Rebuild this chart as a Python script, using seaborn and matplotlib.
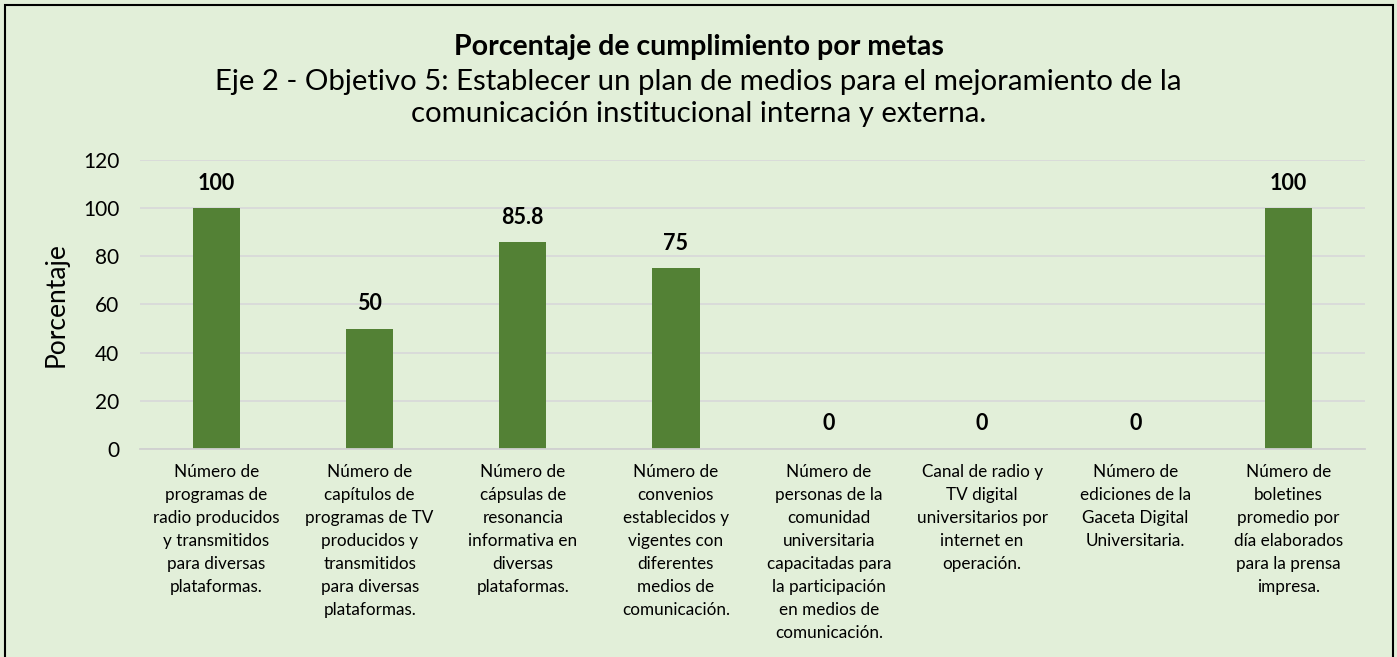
import matplotlib
matplotlib.use("Agg")
import matplotlib.pyplot as plt
import seaborn as sns
import pandas as pd
from matplotlib.patches import Rectangle

categorias = [
    "Número de\nprogramas de\nradio producidos\ny transmitidos\npara diversas\nplataformas.",
    "Número de\ncapítulos de\nprogramas de TV\nproducidos y\ntransmitidos\npara diversas\nplataformas.",
    "Número de\ncápsulas de\nresonancia\ninformativa en\ndiversas\nplataformas.",
    "Número de\nconvenios\nestablecidos y\nvigentes con\ndiferentes\nmedios de\ncomunicación.",
    "Número de\npersonas de la\ncomunidad\nuniversitaria\ncapacitadas para\nla participación\nen medios de\ncomunicación.",
    "Canal de radio y\nTV digital\nuniversitarios por\ninternet en\noperación.",
    "Número de\nediciones de la\nGaceta Digital\nUniversitaria.",
    "Número de\nboletines\npromedio por\ndía elaborados\npara la prensa\nimpresa.",
]
porcentajes = [100, 50, 85.8, 75, 0, 0, 0, 100]
etiquetas = ["100", "50", "85.8", "75", "0", "0", "0", "100"]
yticks = [0, 20, 40, 60, 80, 100, 120]

titulo = "Porcentaje de cumplimiento por metas"
subtitulo = "Eje 2 - Objetivo 5: Establecer un plan de medios para el mejoramiento de la\ncomunicación institucional interna y externa."

BG = "#E2EFD9"
BAR = "#538135"

sns.set_theme(style="white")
plt.rcParams["font.family"] = ["Lato", "DejaVu Sans"]
plt.rcParams["text.color"] = "black"
plt.rcParams["axes.labelcolor"] = "black"
plt.rcParams["xtick.color"] = "black"
plt.rcParams["ytick.color"] = "black"

fig = plt.figure(figsize=(13.97, 6.57), dpi=100, facecolor=BG)
ax = fig.add_axes([0.1002, 0.3166, 0.8768, 0.4399])
ax.set_facecolor(BG)

df = pd.DataFrame({"cat": categorias, "val": porcentajes})
sns.barplot(data=df, x="cat", y="val", color=BAR, width=0.31, saturation=1,
            linewidth=0, edgecolor=BAR, ax=ax)

ax.set_ylim(0, 120)
ax.set_yticks(yticks)
ax.set_yticklabels([str(v) for v in yticks], fontsize=15, color="black")
ax.grid(axis="y", color="#D9D9D9", linewidth=1.3)
ax.set_axisbelow(True)
for s in ["top", "right", "left"]:
    ax.spines[s].set_visible(False)
ax.spines["bottom"].set_color("#D0D0D0")
ax.spines["bottom"].set_linewidth(1.3)
ax.tick_params(axis="y", length=0, pad=15)
ax.tick_params(axis="x", length=0, pad=11)
ax.set_xlim(-0.5, len(categorias) - 0.5)
ax.set_xlabel("")
ax.set_ylabel("Porcentaje", fontsize=19, labelpad=10, color="black")
ax.set_xticks(range(len(categorias)))
ax.set_xticklabels(categorias, fontsize=12.3, linespacing=1.53, va="top", ha="center",
                   color="black")

for i, (v, t) in enumerate(zip(porcentajes, etiquetas)):
    ax.annotate(t, (i, v), xytext=(0, 18), textcoords="offset points",
                ha="center", va="center", fontsize=15.5, fontweight="bold", color="black")

fig.text(0.5, 0.928, titulo, ha="center", va="center", fontsize=20.5, fontweight="bold")
fig.text(0.5, 0.851, subtitulo, ha="center", va="center", fontsize=21.2, linespacing=1.28)

fig.patches.append(Rectangle((0.0036, -0.05), 0.9935, 1.043, transform=fig.transFigure,
                             fill=False, edgecolor="black", linewidth=1.5))

fig.savefig("out.png", dpi=100, facecolor=BG)
